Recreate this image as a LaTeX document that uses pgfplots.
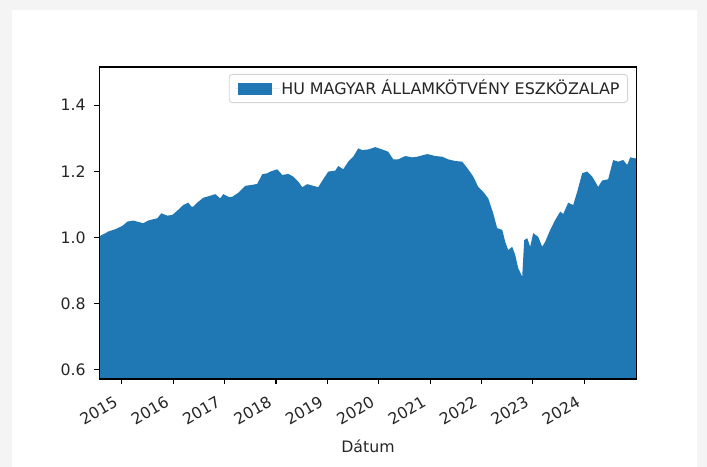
\documentclass[border=0pt]{standalone}
\usepackage{fontspec}
\setmainfont{DejaVu Sans}
\usepackage{pgfplots}
\pgfplotsset{compat=1.18}
\definecolor{tabblue}{RGB}{31,119,180}
\definecolor{framegray}{RGB}{244,244,244}
\definecolor{legendedge}{RGB}{212,212,212}
\pgfplotstableread{
x y
2014.562 0.998
2014.582 1.005
2014.659 1.011
2014.737 1.018
2014.874 1.025
2015.010 1.035
2015.072 1.043
2015.107 1.048
2015.224 1.051
2015.321 1.047
2015.418 1.043
2015.512 1.051
2015.554 1.053
2015.691 1.058
2015.768 1.073
2015.885 1.066
2015.982 1.068
2016.080 1.081
2016.196 1.098
2016.294 1.105
2016.356 1.093
2016.391 1.093
2016.488 1.108
2016.586 1.120
2016.722 1.126
2016.819 1.131
2016.916 1.118
2016.975 1.131
2017.072 1.123
2017.150 1.123
2017.267 1.135
2017.364 1.150
2017.403 1.156
2017.539 1.159
2017.636 1.162
2017.733 1.191
2017.831 1.194
2017.889 1.199
2018.025 1.206
2018.123 1.189
2018.239 1.192
2018.337 1.184
2018.434 1.169
2018.512 1.152
2018.609 1.161
2018.726 1.156
2018.823 1.152
2018.920 1.176
2019.018 1.199
2019.154 1.202
2019.212 1.216
2019.309 1.206
2019.407 1.229
2019.504 1.244
2019.601 1.269
2019.679 1.264
2019.796 1.266
2019.932 1.273
2020.068 1.266
2020.185 1.259
2020.282 1.236
2020.379 1.236
2020.516 1.246
2020.652 1.242
2020.749 1.244
2020.944 1.252
2021.099 1.246
2021.236 1.244
2021.352 1.236
2021.488 1.231
2021.625 1.229
2021.741 1.206
2021.839 1.184
2021.936 1.153
2022.033 1.138
2022.131 1.118
2022.228 1.073
2022.305 1.028
2022.403 1.023
2022.461 0.987
2022.519 0.962
2022.597 0.972
2022.656 0.947
2022.714 0.907
2022.792 0.882
2022.831 0.992
2022.889 0.998
2022.947 0.972
2023.006 1.013
2023.103 1.002
2023.181 0.972
2023.239 0.987
2023.337 1.023
2023.434 1.053
2023.531 1.078
2023.590 1.071
2023.687 1.105
2023.784 1.098
2023.862 1.138
2023.959 1.194
2024.056 1.199
2024.154 1.184
2024.270 1.153
2024.348 1.172
2024.465 1.176
2024.562 1.234
2024.660 1.229
2024.757 1.234
2024.835 1.219
2024.893 1.242
2024.990 1.239
2025.020 1.239
}\fund
\begin{document}
\fontsize{16}{18}\selectfont
\begin{tikzpicture}
\fill[framegray] (-99.3bp,-88bp) rectangle (607.7bp,379bp);
\fill[white] (-87.3bp,-88bp) rectangle (597.7bp,369bp);
\begin{axis}[
  at={(0,0)}, anchor=south west,
  scale only axis, width=537.4bp, height=312bp,
  xmin=2014.562, xmax=2025.02, ymin=0.5725, ymax=1.515,
  axis line style={black, line width=1.1bp},
  every tick/.style={black, line width=1.1bp},
  major tick length=5.2bp,
  tick align=outside,
  xtick pos=left, ytick pos=left,
  xtick={2015,2016,2017,2018,2019,2020,2021,2022,2023,2024},
  xticklabels={2015,2016,2017,2018,2019,2020,2021,2022,2023,2024},
  ytick={0.6,0.8,1.0,1.2,1.4},
  yticklabels={0.6,0.8,1.0,1.2,1.4},
  /pgf/number format/assume math mode=true,
  tick label style={font=\fontsize{15.8}{18}\selectfont, text=black!85},
  xticklabel style={rotate=30, anchor=north east, xshift=-8bp},
  yticklabel style={xshift=-3bp},
  xlabel={Dátum},
  xlabel style={at={(axis description cs:0.5,0)}, anchor=north, yshift=-55bp, font=\fontsize{15.8}{18}\selectfont, text=black!85},
  legend style={at={(rel axis cs:1,1)}, anchor=north east, xshift=-8.7bp, yshift=-7bp,
    draw=legendedge, line width=0.9bp, rounded corners=3bp, fill=white,
    inner xsep=6bp, inner ysep=3.5bp, font=\fontsize{16}{18}\selectfont, text=black!85},
  legend image code/.code={\path (-3bp,0bp) -- (41bp,0bp);\fill[#1, sharp corners] (0bp,-6bp) rectangle (34bp,6bp);},
  legend cell align=left,
  axis on top,
]
\addplot[fill=tabblue, draw=none] table[x=x,y=y]{\fund} \closedcycle;
\addlegendentry{HU MAGYAR ÁLLAMKÖTVÉNY ESZKÖZALAP}
\end{axis}
\pgfresetboundingbox
\path[use as bounding box] (-99.3bp,-88bp) rectangle (607.7bp,379bp);
\end{tikzpicture}
\end{document}
